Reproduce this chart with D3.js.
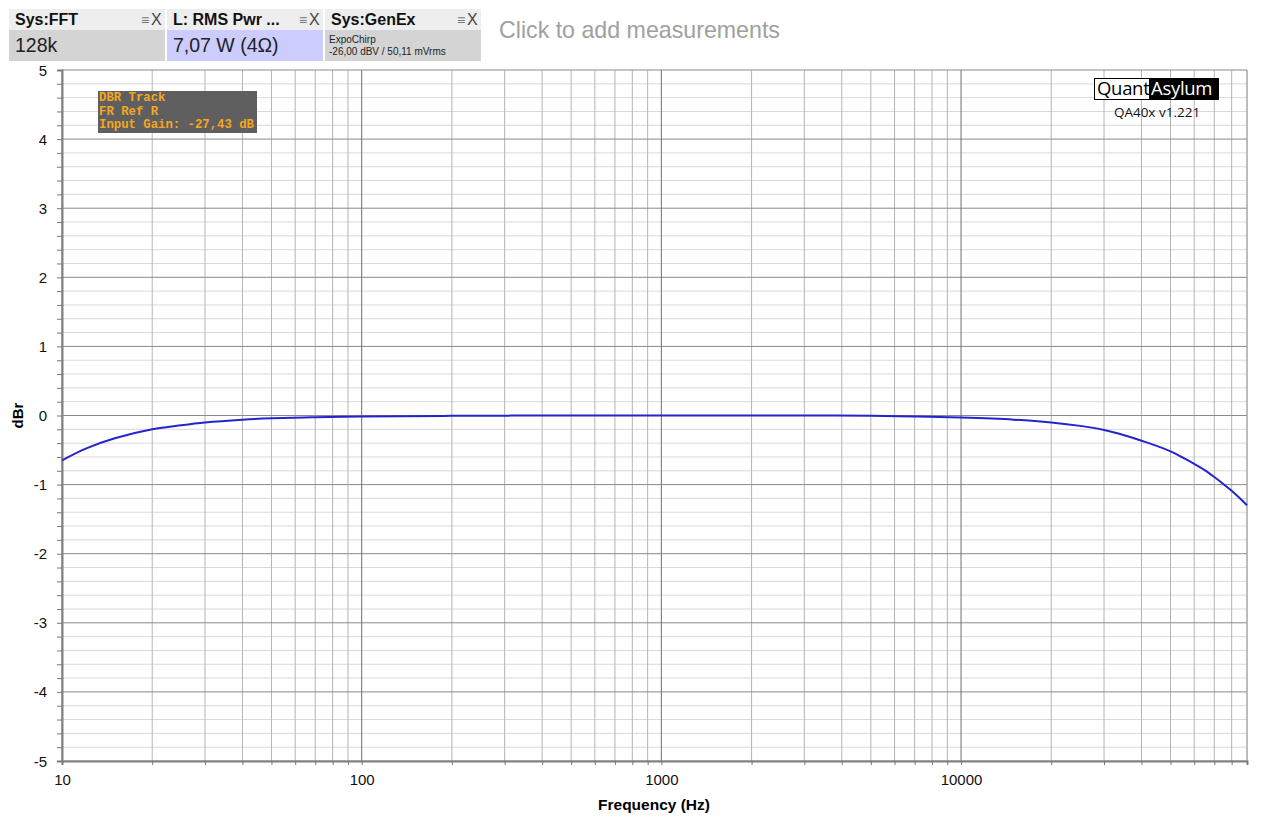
<!DOCTYPE html>
<html>
<head>
<meta charset="utf-8">
<script src="https://cdn.jsdelivr.net/npm/d3@7/dist/d3.min.js"></script>
<style>
  body { margin: 0; background: #fff; font-family: "Liberation Sans", Arial, sans-serif; }
</style>
</head>
<body>
<div id="chart"></div>
<script>
// frequency response
const freqs = [10, 12, 15, 20, 25, 30, 40, 50, 70, 100, 200, 500, 1000, 2000, 3000, 5000, 7000,
               10000, 15000, 20000, 25000, 30000, 35000, 40000, 45000, 50000, 55000, 60000,
               65000, 70000, 75000, 80000, 85000, 90000];
const dbr = [-0.65, -0.48, -0.33, -0.20, -0.14, -0.10, -0.06, -0.04, -0.025, -0.015, -0.005, 0, 0, 0, 0,
             -0.005, -0.015, -0.03, -0.06, -0.10, -0.15, -0.21, -0.285, -0.365, -0.44, -0.52, -0.61,
             -0.70, -0.79, -0.89, -0.99, -1.09, -1.195, -1.30];

const yTicks = [-5, -4, -3, -2, -1, 0, 1, 2, 3, 4, 5];
const xTicks = [10, 100, 1000, 10000];
const panels = [
  {title: "Sys:FFT", value: "128k", bg: "#d4d4d4"},
  {title: "L: RMS Pwr ...", value: "7,07 W (4\u03A9)", bg: "#ccccff"},
  {title: "Sys:GenEx", lines: ["ExpoChirp", "-26,00 dBV / 50,11 mVrms"], bg: "#d4d4d4"}
];
const notes = ["DBR Track", "FR Ref R", "Input Gain: -27,43 dB"];

const width = 1280, height = 823;
const plotL = 62, plotR = 1247, plotT = 70, plotB = 761;

const svg = d3.select("#chart").append("svg")
    .attr("width", width)
    .attr("height", height);

// header panels
panels.forEach((p, i) => {
  const g = svg.append("g").attr("transform", `translate(${9 + i * 158},9)`);
  g.append("rect").attr("width", 156).attr("height", 21).attr("fill", "#eeeeee");
  g.append("rect").attr("y", 21).attr("width", 156).attr("height", 31).attr("fill", p.bg);
  g.append("text").attr("x", 6).attr("y", 16)
      .attr("font-size", 16).attr("font-weight", "bold").attr("fill", "#111")
      .text(p.title);
  g.append("text").attr("x", 132).attr("y", 16)
      .attr("font-size", 14).attr("fill", "#777").text("\u2261");
  g.append("text").attr("x", 142).attr("y", 16)
      .attr("font-size", 16).attr("fill", "#444").text("X");
  if (p.value) {
    g.append("text").attr("x", 6).attr("y", 43)
        .attr("font-size", 19.5).attr("fill", "#222").text(p.value);
  } else {
    p.lines.forEach((t, j) => {
      g.append("text").attr("x", 4).attr("y", 34 + j * 12)
          .attr("font-size", 10).attr("fill", "#222").text(t);
    });
  }
});

svg.append("text").attr("x", 499).attr("y", 38)
    .attr("font-size", 23.2).attr("fill", "#a0a0a0")
    .text("Click to add measurements");

const x = d3.scaleLog().domain([10, 90000]).range([plotL, plotR]);
const y = d3.scaleLinear().domain([-5, 5]).range([plotB, plotT]);

// grid
const grid = svg.append("g");
const minorY = d3.range(-50, 51, 2).map(v => v / 10).filter(v => Math.abs(v % 1) > 0.01);
grid.selectAll(".hminor").data(minorY).join("line")
    .attr("x1", plotL).attr("x2", plotR)
    .attr("y1", d => y(d)).attr("y2", d => y(d))
    .attr("stroke", "#d9d9d9").attr("stroke-width", 1);

const minorX = [];
[10, 100, 1000, 10000].forEach(dec => {
  for (let k = 2; k <= 9; k++) if (dec * k <= 90000) minorX.push(dec * k);
});
grid.selectAll(".vminor").data(minorX).join("line")
    .attr("x1", d => x(d)).attr("x2", d => x(d))
    .attr("y1", plotT).attr("y2", plotB)
    .attr("stroke", "#b4b4b4").attr("stroke-width", 1);

grid.selectAll(".hmajor").data(yTicks).join("line")
    .attr("x1", plotL).attr("x2", plotR)
    .attr("y1", d => y(d)).attr("y2", d => y(d))
    .attr("stroke", "#8a8a8a").attr("stroke-width", 1);

grid.selectAll(".vmajor").data(xTicks).join("line")
    .attr("x1", d => x(d)).attr("x2", d => x(d))
    .attr("y1", plotT).attr("y2", plotB)
    .attr("stroke", "#6e6e6e").attr("stroke-width", 1);

grid.append("line").attr("x1", plotR).attr("x2", plotR)
    .attr("y1", plotT).attr("y2", plotB).attr("stroke", "#a0a0a0");

// axes
const yAxis = d3.axisLeft(y).tickValues(d3.range(-50, 51, 2).map(v => v / 10))
    .tickSize(5).tickFormat("");
svg.append("g").attr("transform", `translate(${plotL},0)`).call(yAxis)
    .call(g => g.selectAll("line").attr("stroke", "#777"))
    .call(g => g.select(".domain").attr("stroke", "#808080").attr("stroke-width", 2));

svg.append("g").selectAll("text").data(yTicks).join("text")
    .attr("x", 47).attr("y", d => y(d) + 5.5)
    .attr("text-anchor", "end").attr("font-size", 15).attr("fill", "#111")
    .text(d => d);

const xAxis = d3.axisBottom(x).tickValues(xTicks.concat(minorX))
    .tickSize(4).tickFormat(d => xTicks.includes(d) ? d : "");
svg.append("g").attr("transform", `translate(0,${plotB})`).call(xAxis)
    .call(g => g.selectAll("line").attr("stroke", "#777"))
    .call(g => g.select(".domain").attr("stroke", "#808080").attr("stroke-width", 2))
    .call(g => g.selectAll("text").attr("font-size", 15).attr("fill", "#111")
        .attr("dy", 0).attr("y", 24).attr("font-family", "Liberation Sans, Arial, sans-serif"));

svg.append("text").attr("x", 654).attr("y", 810)
    .attr("text-anchor", "middle").attr("font-size", 15.5).attr("font-weight", "bold")
    .text("Frequency (Hz)");
svg.append("text")
    .attr("transform", `translate(23,${y(0)}) rotate(-90)`)
    .attr("text-anchor", "middle").attr("font-size", 15).attr("font-weight", "bold")
    .text("dBr");

// response curve
const line = d3.line()
    .x((d, i) => x(freqs[i]))
    .y(d => y(d))
    .curve(d3.curveCatmullRom.alpha(0.5));
svg.append("path").datum(dbr)
    .attr("d", line)
    .attr("fill", "none").attr("stroke", "#2424cf").attr("stroke-width", 2);

// annotation box
const note = svg.append("g").attr("transform", "translate(98,91)");
note.append("rect").attr("width", 159).attr("height", 42).attr("fill", "#5f5f5f");
note.selectAll("text").data(notes).join("text")
    .attr("x", 1).attr("y", (d, i) => 10 + i * 13.5)
    .attr("font-family", "Liberation Mono, DejaVu Sans Mono, monospace")
    .attr("font-size", 12.3).attr("font-weight", "bold").attr("fill", "#f5a623")
    .style("white-space", "pre")
    .text(d => d);

// logo
const logo = svg.append("g").attr("transform", "translate(1094,78)");
logo.append("rect").attr("x", 0.5).attr("y", 0.5).attr("width", 124).attr("height", 21)
    .attr("fill", "#fff").attr("stroke", "#000");
logo.append("rect").attr("x", 55).attr("width", 70).attr("height", 22).attr("fill", "#000");
logo.append("text").attr("x", 3).attr("y", 17).attr("font-family", "Open Sans, sans-serif")
    .attr("font-size", 18.5).attr("letter-spacing", -0.3).attr("fill", "#000").text("Quant");
logo.append("text").attr("x", 57).attr("y", 17).attr("font-family", "Open Sans, sans-serif")
    .attr("font-size", 18.5).attr("letter-spacing", -0.3).attr("fill", "#fff").text("Asylum");
svg.append("text").attr("x", 1157).attr("y", 117).attr("text-anchor", "middle")
    .attr("font-family", "Open Sans, sans-serif").attr("font-size", 13.5).attr("fill", "#111")
    .text("QA40x v1.221");
</script>
</body>
</html>
